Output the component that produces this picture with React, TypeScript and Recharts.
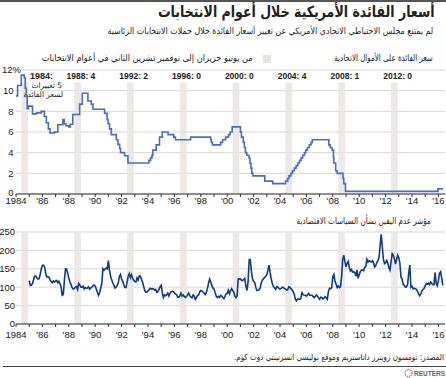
import React from 'react';
import { LineChart, Line, XAxis, YAxis, CartesianGrid, ReferenceArea } from 'recharts';

const FONT = '"Liberation Sans", Arial, "DejaVu Sans", sans-serif';
const AR_FONT = '"DejaVu Sans", sans-serif';

const TITLE = 'أسعار الفائدة الأمريكية خلال أعوام الانتخابات';
const SUBTITLE = 'لم يمتنع مجلس الاحتياطي الاتحادي الأمريكي عن تغيير أسعار الفائدة خلال حملات الانتخابات الرئاسية';
const LEGEND_RATE = 'سعر الفائدة على الأموال الاتحادية';
const LEGEND_BAND = 'من يونيو حزيران إلى نوفمبر تشرين الثاني في أعوام الانتخابات';
const EPU_LABEL = 'مؤشر عدم اليقين بشأن السياسات الاقتصادية';
const SOURCE = 'المصدر: تومسون رويترز داتاستريم وموقع بوليسي انسرتينتي دوت كوم.';
const NOTE_1984 = ['\u200F5 تغييرات', 'لسعر الفائدة'];

// election years, number of rate changes, band = June..November
const ELECTION_YEARS = [1984, 1988, 1992, 1996, 2000, 2004, 2008, 2012];
const RATE_CHANGES = [5, 4, 2, 0, 0, 4, 1, 0];

const YEAR_TICKS = [
  1984, 1985, 1986, 1987, 1988, 1989, 1990, 1991, 1992, 1993, 1994, 1995, 1996,
  1997, 1998, 1999, 2000, 2001, 2002, 2003, 2004, 2005, 2006, 2007, 2008, 2009,
  2010, 2011, 2012, 2013, 2014, 2015, 2016,
];
const RATE_TICKS = [0, 2, 4, 6, 8, 10, 12];
const EPU_TICKS = [0, 50, 100, 150, 200, 250];

// fed funds rate, step changes (decimal year -> %)
const FED_YEARS = [
  1984.0, 1984.12, 1984.4, 1984.62, 1984.7, 1984.78, 1984.85, 1984.95, 1985.25, 1985.55,
  1985.9, 1986.15, 1986.3, 1986.45, 1986.58, 1986.92, 1987.17, 1987.55, 1987.65, 1987.78,
  1988.0, 1988.12, 1988.3, 1988.82, 1989.02, 1989.45, 1989.7, 1989.83, 1990.71, 1990.9,
  1990.98, 1991.09, 1991.22, 1991.6, 1991.72, 1991.85, 1991.92, 1992.22, 1992.48, 1994.07,
  1994.2, 1994.3, 1994.37, 1994.62, 1994.87, 1995.08, 1995.52, 1995.95, 1996.08, 1997.23,
  1998.75, 1998.8, 1998.88, 1999.5, 1999.65, 1999.88, 2000.1, 2000.22, 2000.38, 2001.0,
  2001.08, 2001.22, 2001.3, 2001.38, 2001.48, 2001.65, 2001.72, 2001.8, 2001.87, 2001.95,
  2002.85, 2003.45, 2004.42, 2004.58, 2004.68, 2004.82, 2004.94, 2005.08, 2005.22, 2005.35,
  2005.48, 2005.6, 2005.72, 2005.85, 2005.95, 2006.08, 2006.22, 2006.35, 2006.45, 2007.7,
  2007.8, 2007.95, 2008.05, 2008.08, 2008.22, 2008.33, 2008.77, 2008.83, 2008.96, 2015.96,
  2016.35,
];
const FED_RATES = [
  9.5, 10.5, 11.5, 11.25, 10.25, 9.5, 8.25, 8.5, 7.75, 7.85,
  8.0, 7.5, 6.9, 6.3, 5.9, 6.0, 6.7, 7.2, 6.8, 6.6,
  6.5, 6.75, 7.7, 8.7, 9.75, 9.0, 8.7, 8.2, 7.8, 7.2,
  6.8, 6.3, 5.75, 5.25, 4.8, 4.4, 4.0, 3.7, 3.0, 3.25,
  3.5, 3.75, 4.25, 4.75, 5.5, 6.0, 5.75, 5.5, 5.25, 5.5,
  5.25, 5.0, 4.75, 5.0, 5.25, 5.5, 5.75, 6.0, 6.5, 6.0,
  5.5, 5.0, 4.5, 4.0, 3.75, 3.5, 3.0, 2.5, 2.0, 1.75,
  1.25, 1.0, 1.25, 1.5, 1.75, 2.0, 2.25, 2.5, 2.75, 3.0,
  3.25, 3.5, 3.75, 4.0, 4.25, 4.5, 4.75, 5.0, 5.25, 4.75,
  4.5, 4.25, 3.5, 3.0, 2.25, 2.0, 1.5, 1.0, 0.25, 0.5,
  0.5,
];

// economic policy uncertainty index, monthly from Jan 1985
const EPU_START = 1985;
const EPU_MONTHLY = [
  118, 105, 106, 110, 121, 130, 130, 125, 122, 123, 135, 150, // 1985
  159, 160, 155, 138, 128, 129, 127, 120, 115, 112, 117, 114, // 1986
  117, 118, 112, 116, 109, 101, 78, 80, 118, 150, 149, 138, // 1987
  124, 115, 107, 99, 95, 96, 100, 102, 94, 110, 106, 100, // 1988
  100, 103, 95, 99, 97, 98, 101, 95, 98, 100, 104, 106, // 1989
  103, 95, 86, 78, 85, 97, 110, 150, 146, 150, 152, 150, // 1990
  172, 146, 130, 120, 112, 105, 98, 100, 105, 112, 130, 135, // 1991
  122, 116, 107, 99, 99, 114, 130, 137, 126, 134, 124, 119, // 1992
  115, 114, 125, 119, 130, 130, 122, 114, 103, 91, 86, 87, // 1993
  90, 94, 97, 95, 96, 95, 92, 94, 86, 88, 94, 101, // 1994
  105, 85, 72, 79, 77, 79, 84, 76, 83, 88, 89, 88, // 1995
  85, 81, 80, 73, 73, 77, 84, 76, 79, 74, 72, 75, // 1996
  79, 84, 77, 73, 71, 79, 76, 67, 72, 77, 79, 87, // 1997
  91, 90, 87, 84, 80, 85, 96, 110, 122, 115, 105, 98, // 1998
  95, 85, 76, 72, 75, 72, 78, 76, 72, 69, 75, 82, // 1999
  83, 92, 82, 90, 96, 91, 87, 76, 72, 77, 122, 122, // 2000
  123, 119, 118, 121, 124, 102, 91, 115, 175, 175, 143, 123, // 2001
  116, 113, 100, 91, 91, 93, 98, 112, 119, 123, 126, 130, // 2002
  134, 145, 160, 140, 123, 110, 102, 98, 94, 101, 100, 97, // 2003
  95, 97, 100, 99, 97, 95, 92, 93, 101, 100, 96, 93, // 2004
  88, 80, 67, 63, 68, 68, 67, 70, 85, 80, 78, 78, // 2005
  76, 79, 83, 78, 78, 78, 75, 72, 75, 79, 76, 71, // 2006
  67, 73, 72, 68, 70, 74, 71, 67, 88, 97, 96, 99, // 2007
  128, 135, 116, 108, 99, 103, 99, 101, 128, 175, 187, 170, // 2008
  155, 165, 170, 155, 144, 148, 141, 142, 140, 130, 147, 124, // 2009
  134, 142, 146, 147, 145, 154, 156, 176, 168, 172, 170, 168, // 2010
  172, 167, 155, 159, 167, 172, 180, 212, 244, 210, 176, 164, // 2011
  166, 173, 165, 153, 146, 170, 191, 187, 177, 163, 175, 187, // 2012
  180, 165, 127, 122, 107, 105, 100, 101, 107, 138, 160, 100, // 2013
  103, 96, 97, 96, 94, 89, 82, 77, 82, 90, 94, 97, // 2014
  104, 110, 108, 111, 107, 114, 110, 107, 107, 140, 110, 104, // 2015
  118, 138, 142, 125, 105, // 2016
];

const fedData = FED_YEARS.map((year, i) => ({ year, rate: FED_RATES[i] }));
const epuData = EPU_MONTHLY.map((v, i) => ({ year: EPU_START + i / 12, epu: v }));

const BAND_FILL = '#e9e5e3';
const GRID = '#d9d9d9';
const AXIS = '#333333';
const X_DOMAIN = [1984, 2016.5];

const yearLabel = (y: number) => {
  if (y % 2 !== 0) return '';
  if (y === 1984) return '1984';
  return "'" + String(y).slice(2);
};

const RateTick = ({ y, payload }: any) => (
  <text
    x={payload.value === 12 ? 21 : 13.5}
    y={y}
    dy={payload.value === 0 ? 1.8 : 3.3}
    textAnchor="end"
    fontSize={9.5}
    fill="#222"
    fontFamily={FONT}
  >
    {payload.value === 12 ? '12%' : payload.value}
  </text>
);

const EpuTick = ({ y, payload }: any) => (
  <text x={15} y={y} dy={3.3} textAnchor="end" fontSize={9.5} fill="#222" fontFamily={FONT}>
    {payload.value}
  </text>
);

const BandLabel = ({ viewBox, year, changes }: any) => {
  if (!viewBox) return null;
  const right = viewBox.x + viewBox.width;
  const base = viewBox.y - 3.5;
  if (year === 1984) {
    return (
      <g fill="#222">
        <text x={right + 2} y={base} fontSize={9} fontWeight="bold" fontFamily={FONT}>
          {`${year}:`}
        </text>
        <text x={right + 34} y={base + 9.5} fontSize={7.5} textAnchor="end" fontFamily={AR_FONT}>
          {NOTE_1984[0]}
        </text>
        <text x={right + 35} y={base + 18.5} fontSize={7.5} textAnchor="end" fontFamily={AR_FONT}>
          {NOTE_1984[1]}
        </text>
      </g>
    );
  }
  return (
    <text x={right} y={base} fontSize={8.5} fontWeight="bold" textAnchor="middle" fill="#222" fontFamily={FONT}>
      {`${year}: ${changes}`}
    </text>
  );
};

const arText = (style: React.CSSProperties, sx = 1): React.CSSProperties => ({
  position: 'absolute',
  direction: 'rtl',
  textAlign: 'right',
  whiteSpace: 'nowrap',
  fontFamily: AR_FONT,
  color: '#222',
  lineHeight: 1,
  transform: `scaleX(${sx})`,
  transformOrigin: 'right center',
  ...style,
});

export default function App() {
  return (
    <div
      style={{
        position: 'fixed',
        left: 0,
        top: 0,
        width: 446,
        height: 378,
        background: '#fff',
        overflow: 'hidden',
        fontFamily: FONT,
      }}
    >
      <div style={{ position: 'absolute', left: 0, top: 0, width: 446, height: 2, background: '#555' }} />
      <div style={arText({ right: 11, top: 5, fontSize: 15.5, fontWeight: 'bold' }, 0.81)}>{TITLE}</div>
      <div style={arText({ right: 13, top: 27, fontSize: 9 }, 0.88)}>{SUBTITLE}</div>
      <div style={arText({ right: 13, top: 54, fontSize: 9 }, 0.79)}>{LEGEND_RATE}</div>
      <div style={{ position: 'absolute', left: 263, top: 55, width: 8, height: 8, background: BAND_FILL }} />
      <div style={arText({ right: 193, top: 54, fontSize: 9 }, 0.91)}>{LEGEND_BAND}</div>

      <div style={{ position: 'absolute', left: 0, top: 60 }}>
        <LineChart width={446} height={150} data={fedData} margin={{ top: 10, right: 1, bottom: 0, left: 0 }}>
          <CartesianGrid vertical={false} stroke={GRID} />
          {ELECTION_YEARS.map((y, i) => (
            <ReferenceArea
              key={y}
              x1={y + 5 / 12}
              x2={y + 11 / 12}
              y1={0}
              y2={10.8}
              fill={BAND_FILL}
              fillOpacity={0.9}
              stroke="none"
              ifOverflow="visible"
              label={<BandLabel year={y} changes={RATE_CHANGES[i]} />}
            />
          ))}
          <XAxis
            dataKey="year"
            type="number"
            domain={X_DOMAIN}
            allowDataOverflow
            ticks={YEAR_TICKS}
            interval={0}
            tickFormatter={yearLabel}
            height={16}
            tickSize={3}
            tickMargin={0}
            stroke={AXIS}
            tick={{ fontSize: 9.5, fill: '#222', fontFamily: FONT }}
          />
          <YAxis
            type="number"
            domain={[0, 12]}
            ticks={RATE_TICKS}
            interval={0}
            width={16}
            axisLine={false}
            tickLine={false}
            tick={<RateTick />}
          />
          <Line
            type="stepAfter"
            dataKey="rate"
            stroke="#4a6cc6"
            strokeWidth={1.6}
            dot={false}
            isAnimationActive={false}
          />
        </LineChart>
      </div>

      <div style={arText({ right: 15, top: 217, fontSize: 9 }, 0.8)}>{EPU_LABEL}</div>

      <div style={{ position: 'absolute', left: 0, top: 226 }}>
        <LineChart width={446} height={116} data={epuData} margin={{ top: 6, right: 1, bottom: 0, left: 0 }}>
          <CartesianGrid vertical={false} stroke={GRID} />
          {ELECTION_YEARS.map((y) => (
            <ReferenceArea
              key={y}
              x1={y + 5 / 12}
              x2={y + 11 / 12}
              y1={0}
              y2={250}
              fill={BAND_FILL}
              fillOpacity={0.9}
              stroke="none"
            />
          ))}
          <XAxis
            dataKey="year"
            type="number"
            domain={X_DOMAIN}
            allowDataOverflow
            ticks={YEAR_TICKS}
            interval={0}
            tickFormatter={yearLabel}
            height={18}
            tickSize={3}
            tickMargin={4}
            stroke={AXIS}
            tick={{ fontSize: 9.5, fill: '#222', fontFamily: FONT }}
          />
          <YAxis
            type="number"
            domain={[0, 250]}
            ticks={EPU_TICKS}
            interval={0}
            width={16}
            axisLine={false}
            tickLine={false}
            tick={<EpuTick />}
          />
          <Line
            type="linear"
            dataKey="epu"
            stroke="#0f3b8c"
            strokeWidth={1.6}
            dot={false}
            isAnimationActive={false}
          />
        </LineChart>
      </div>

      <div style={arText({ right: 2, top: 353, fontSize: 8.5 }, 0.84)}>{SOURCE}</div>
      <div style={{ position: 'absolute', left: 3, top: 366, width: 443, height: 1, background: '#444' }} />
      <svg style={{ position: 'absolute', left: 404, top: 368 }} width={42} height={10}>
        <circle cx={4.5} cy={5} r={3.5} fill="none" stroke="#777" strokeWidth={1.4} strokeDasharray="1.1 0.9" />
        <text x={10} y={8} fontSize={6.5} fontWeight="bold" fill="#666" fontFamily={FONT}>
          REUTERS
        </text>
      </svg>
    </div>
  );
}
